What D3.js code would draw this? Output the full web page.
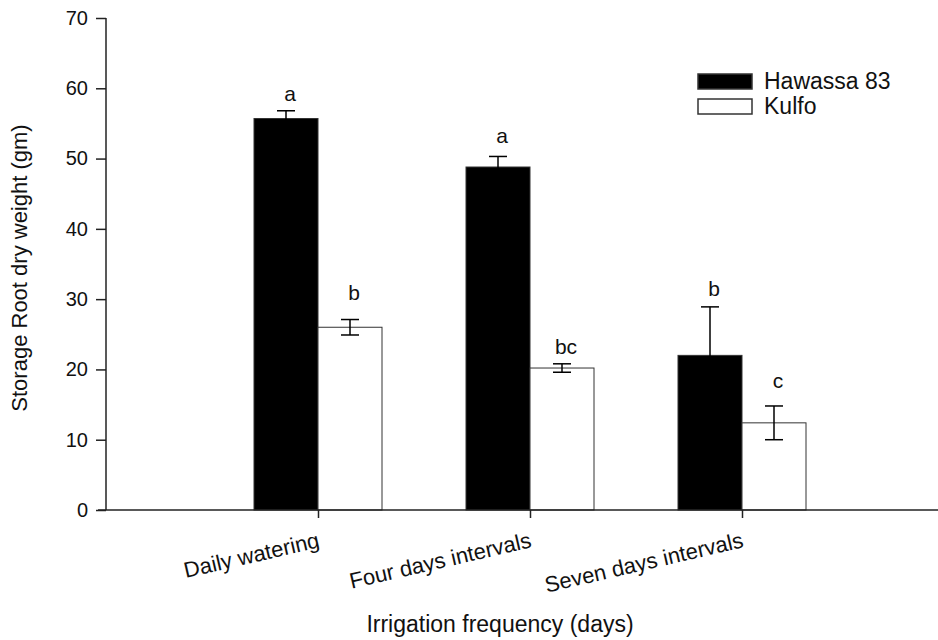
<!DOCTYPE html>
<html>
<head>
<meta charset="utf-8">
<script src="https://cdn.jsdelivr.net/npm/d3@7/dist/d3.min.js"></script>
<style>
  body { margin: 0; background: #fff; }
  text { font-family: "Liberation Sans", Arial, sans-serif; fill: #111; }
</style>
</head>
<body>
<svg id="chart" width="938" height="640"></svg>
<script>
// ---- data ----
const categories = ["Daily watering", "Four days intervals", "Seven days intervals"];
const seriesNames = ["Hawassa 83", "Kulfo"];
const hawassa = [55.7, 48.8, 22.0];
const hawassaErr = [1.1, 1.5, 6.9];
const kulfo = [26.0, 20.2, 12.4];
const kulfoErr = [1.1, 0.6, 2.4];
const hawassaLetters = ["a", "a", "b"];
const kulfoLetters = ["b", "bc", "c"];
// letter anchor heights (data units, baseline)
const hawassaLetterY = [58.2, 52.2, 30.4];
const kulfoLetterY = [29.9, 22.2, 17.4];
const yTicks = [0, 10, 20, 30, 40, 50, 60, 70];

// ---- layout ----
const svg = d3.select("#chart");
const x = d3.scaleLinear().domain([0, 4]).range([106, 954]);
const y = d3.scaleLinear().domain([0, 70]).range([510, 18]);
const barW = 64;

const series = [
  {name: seriesNames[0], vals: hawassa, err: hawassaErr, letters: hawassaLetters, ly: hawassaLetterY, fill: "#000", off: -barW},
  {name: seriesNames[1], vals: kulfo, err: kulfoErr, letters: kulfoLetters, ly: kulfoLetterY, fill: "#fff", off: 0}
];

// bars
series.forEach(s => {
  const g = svg.append("g");
  s.vals.forEach((v, i) => {
    const cx = x(i + 1) + s.off;
    g.append("rect")
      .attr("x", cx).attr("y", y(v))
      .attr("width", barW).attr("height", y(0) - y(v))
      .attr("fill", s.fill).attr("stroke", "#333").attr("stroke-width", 1);
  });
});

// error bars
series.forEach(s => {
  s.vals.forEach((v, i) => {
    const cx = x(i + 1) + s.off + barW / 2;
    const top = y(v + s.err[i]), bot = y(v - s.err[i]);
    const g = svg.append("g").attr("stroke", "#000").attr("stroke-width", 1.5);
    g.append("line").attr("x1", cx).attr("x2", cx).attr("y1", top).attr("y2", bot);
    g.append("line").attr("x1", cx - 9).attr("x2", cx + 9).attr("y1", top).attr("y2", top);
    g.append("line").attr("x1", cx - 9).attr("x2", cx + 9).attr("y1", bot).attr("y2", bot);
  });
});

// letters
series.forEach(s => {
  s.letters.forEach((t, i) => {
    const cx = x(i + 1) + s.off + barW / 2;
    svg.append("text").attr("x", cx + 4).attr("y", y(s.ly[i]))
      .attr("text-anchor", "middle").attr("font-size", 21).text(t);
  });
});

// y axis
const yAxis = svg.append("g").attr("transform", "translate(106,0)")
  .call(d3.axisLeft(y).tickValues(yTicks).tickSize(10).tickPadding(8).tickFormat(d3.format("d")));
yAxis.selectAll("text").attr("font-size", 20).style("font-family", "Liberation Sans, Arial, sans-serif").attr("fill", "#111");
yAxis.selectAll("line, path").attr("stroke", "#222").attr("stroke-width", 1.5);
yAxis.select(".domain").attr("d", `M0,${y(70)}H0V${y(0)}`);
yAxis.selectAll(".tick line").attr("x1", 0);

// x axis
const xAxis = svg.append("g").attr("transform", `translate(0,${y(0)})`)
  .call(d3.axisBottom(x).tickValues([1, 2, 3]).tickSize(8).tickFormat((d) => categories[d - 1]));
xAxis.select(".domain").attr("d", "M98,0H938").attr("stroke", "#222").attr("stroke-width", 1.5);
xAxis.selectAll(".tick line").attr("stroke", "#222").attr("stroke-width", 1.5);
xAxis.selectAll(".tick text")
  .attr("font-size", 22).style("font-family", "Liberation Sans, Arial, sans-serif").attr("fill", "#111")
  .attr("text-anchor", "end")
  .attr("y", 0).attr("dy", 0)
  .attr("transform", "translate(2,37) rotate(-13)");

// axis titles
svg.append("text").attr("transform", "translate(27,268) rotate(-90)")
  .attr("text-anchor", "middle").attr("font-size", 22).text("Storage Root dry weight (gm)");
svg.append("text").attr("x", 500).attr("y", 632)
  .attr("text-anchor", "middle").attr("font-size", 23).text("Irrigation frequency (days)");

// legend
const lg = svg.append("g");
series.forEach((s, i) => {
  lg.append("rect").attr("x", 698).attr("y", 74 + i * 25).attr("width", 54).attr("height", 15)
    .attr("fill", s.fill).attr("stroke", "#333").attr("stroke-width", 1.5);
  lg.append("text").attr("x", 764).attr("y", 89 + i * 25).attr("font-size", 23).text(s.name);
});
</script>
</body>
</html>
